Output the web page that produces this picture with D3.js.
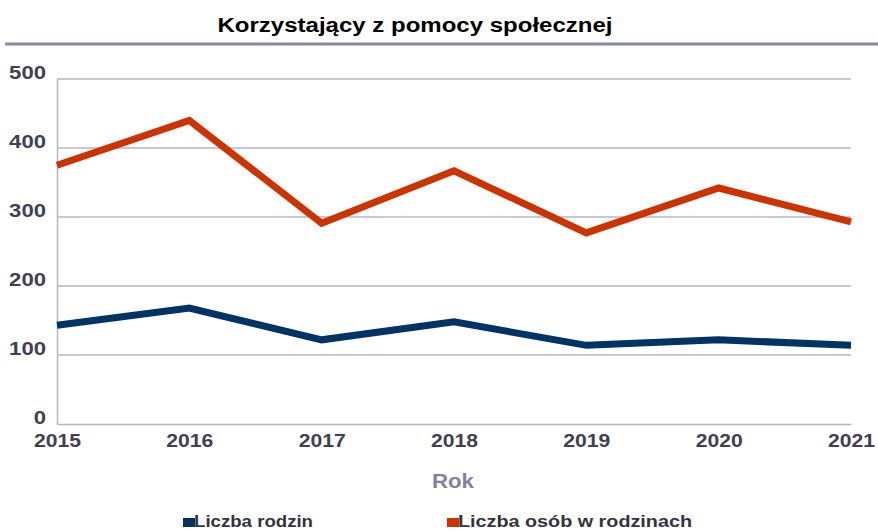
<!DOCTYPE html>
<html>
<head>
<meta charset="utf-8">
<script src="https://cdn.jsdelivr.net/npm/d3@7"></script>
<style>
  body { margin: 0; background: #fff; }
  svg { display: block; font-family: "Liberation Sans", Arial, sans-serif; }
</style>
</head>
<body>
<svg width="878" height="531"></svg>
<script>
// dane
var years = [2015, 2016, 2017, 2018, 2019, 2020, 2021];
var rodziny = [143, 168, 122, 148, 114, 122, 114];
var osoby = [375, 440, 291, 367, 277, 342, 293];
var yTicks = [0, 100, 200, 300, 400, 500];
var seriesNames = ["Liczba rodzin", "Liczba osób w rodzinach"];
var seriesColors = ["#003366", "#cc3300"];

var svg = d3.select("svg"),
  width = +svg.attr("width"),
  height = +svg.attr("height");

var margin = {top: 79, right: 27, bottom: 107, left: 57};

var x = d3.scalePoint()
  .domain(years)
  .range([margin.left, width - margin.right]);

var y = d3.scaleLinear()
  .domain([0, 500])
  .range([height - margin.bottom, margin.top]);

// tytuł
svg.append("text")
  .attr("x", 415)
  .attr("y", 32)
  .attr("text-anchor", "middle")
  .attr("textLength", 395)
  .attr("lengthAdjust", "spacingAndGlyphs")
  .style("font-size", "20px")
  .style("font-weight", "bold")
  .attr("fill", "#000")
  .text("Korzystający z pomocy społecznej");

// linia pod tytułem
svg.append("line")
  .attr("x1", 5).attr("x2", width)
  .attr("y1", 44).attr("y2", 44)
  .attr("stroke", "#8a8aa2")
  .attr("stroke-width", 3);

// siatka
svg.append("g")
  .selectAll("line")
  .data(yTicks.filter(function (d) { return d > 0; }))
  .enter().append("line")
  .attr("x1", margin.left)
  .attr("x2", width - margin.right)
  .attr("y1", function (d) { return y(d); })
  .attr("y2", function (d) { return y(d); })
  .attr("stroke", "#b4b4cc")
  .attr("stroke-width", 1.5);

// osie
var yAxis = svg.append("g")
  .attr("transform", "translate(" + margin.left + ",0)")
  .call(d3.axisLeft(y).tickValues(yTicks).tickSize(0).tickPadding(11));
yAxis.select(".domain").attr("stroke", "#b4b4cc").attr("stroke-width", 1.5);
yAxis.selectAll("text")
  .attr("dy", "-0.05em")
  .attr("textLength", function (d) { return String(d).length * 12.3; })
  .attr("lengthAdjust", "spacingAndGlyphs")
  .style("font-size", "18px")
  .style("font-weight", "bold")
  .attr("fill", "#404052");

var xAxis = svg.append("g")
  .attr("transform", "translate(0," + y(0) + ")")
  .call(d3.axisBottom(x).tickSize(0).tickPadding(10));
xAxis.select(".domain").attr("stroke", "#b4b4cc").attr("stroke-width", 1.5);
xAxis.selectAll("text")
  .attr("textLength", 47)
  .attr("lengthAdjust", "spacingAndGlyphs")
  .style("font-size", "18px")
  .style("font-weight", "bold")
  .attr("fill", "#404052");

// tytuł osi X
svg.append("text")
  .attr("x", 453)
  .attr("y", 488)
  .attr("text-anchor", "middle")
  .attr("textLength", 42)
  .attr("lengthAdjust", "spacingAndGlyphs")
  .style("font-size", "20px")
  .style("font-weight", "bold")
  .attr("fill", "#8282a0")
  .text("Rok");

// linie
var line = d3.line()
  .x(function (d, i) { return x(years[i]); })
  .y(function (d) { return y(d); });

[rodziny, osoby].forEach(function (values, k) {
  svg.append("path")
    .datum(values)
    .attr("d", line)
    .attr("fill", "none")
    .attr("stroke", seriesColors[k])
    .attr("stroke-width", 7)
    .attr("stroke-linejoin", "miter");
});

// legenda
var legendX = [183, 447];
var legendLen = [119, 234];
var legend = svg.append("g")
  .selectAll("g")
  .data(seriesNames)
  .enter().append("g")
  .attr("transform", function (d, i) { return "translate(" + legendX[i] + ",527)"; });

legend.append("rect")
  .attr("x", 0).attr("y", -9)
  .attr("width", 12).attr("height", 9)
  .attr("fill", function (d, i) { return seriesColors[i]; });

legend.append("text")
  .attr("x", 11)
  .attr("y", 0)
  .attr("textLength", function (d, i) { return legendLen[i]; })
  .attr("lengthAdjust", "spacingAndGlyphs")
  .style("font-size", "17px")
  .style("font-weight", "bold")
  .attr("fill", "#333340")
  .text(function (d) { return d; });
</script>
</body>
</html>
